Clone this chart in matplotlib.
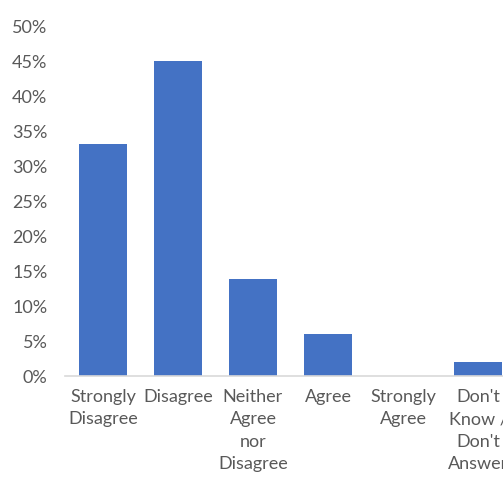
import matplotlib.pyplot as plt
import numpy as np
from matplotlib.ticker import FuncFormatter, MultipleLocator

plt.rcParams["font.family"] = ["Lato", "DejaVu Sans"]

categories = [
    "Strongly\nDisagree",
    "Disagree",
    "Neither\nAgree\nnor\nDisagree",
    "Agree",
    "Strongly\nAgree",
    "Don't\nKnow /\nDon't\nAnswer",
]
shares = [33.2, 45.0, 13.8, 6.0, 0.0, 2.0]

BAR_COLOR = "#4472C4"
TEXT_COLOR = "#595959"

fig = plt.figure(figsize=(5.03, 4.79), dpi=100)
# the plot area runs a little past the right edge of the canvas
ax = fig.add_axes([0.1302, 0.215, 0.8946, 0.7307])

x = np.arange(len(categories))
ax.bar(x, shares, width=0.63, color=BAR_COLOR, zorder=2)

ax.set_xlim(-0.5, len(categories) - 0.5)
ax.set_ylim(0, 50)
ax.yaxis.set_major_locator(MultipleLocator(5))
ax.yaxis.set_major_formatter(FuncFormatter(lambda v, _: f"{v:.0f}%"))

ax.set_xticks(x)
ax.set_xticklabels(categories, linespacing=1.5)

for side in ("top", "right", "left"):
    ax.spines[side].set_visible(False)
ax.spines["bottom"].set_color("#d9d9d9")
ax.spines["bottom"].set_linewidth(1.2)

ax.tick_params(axis="both", length=0, labelsize=13, labelcolor=TEXT_COLOR)
ax.tick_params(axis="y", pad=13)
ax.tick_params(axis="x", pad=9)

fig.savefig("out.png", dpi=100, facecolor="white")
